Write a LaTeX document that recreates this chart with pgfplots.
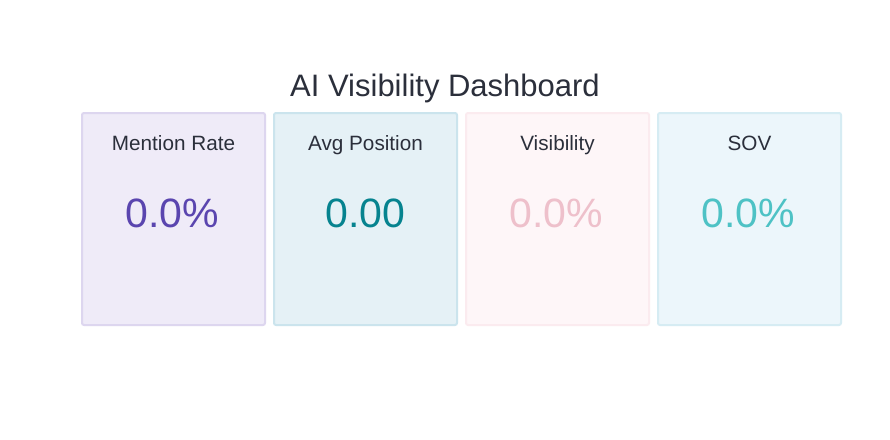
\documentclass[border=0pt]{standalone}
\usepackage{pgfplots}
\pgfplotsset{compat=1.18}
\usepackage{fontspec}
\setmainfont{Liberation Sans}
\definecolor{txt}{HTML}{2B2F3B}
\definecolor{fA}{HTML}{EFEBF8}\definecolor{bA}{HTML}{DDD6EF}\definecolor{vA}{HTML}{5A45AF}
\definecolor{fB}{HTML}{E5F1F6}\definecolor{bB}{HTML}{CBE4ED}\definecolor{vB}{HTML}{06838F}
\definecolor{fC}{HTML}{FEF6F8}\definecolor{bC}{HTML}{FBEBEF}\definecolor{vC}{HTML}{EEC0CB}
\definecolor{fD}{HTML}{ECF6FB}\definecolor{bD}{HTML}{D6ECF3}\definecolor{vD}{HTML}{4EC2C5}
\begin{document}
\begin{tikzpicture}
\begin{axis}[
  scale only axis, width=890pt, height=439pt,
  xmin=0, xmax=890, ymin=0, ymax=439, y dir=reverse,
  hide axis, clip=false,
]
\addplot[draw=none, fill=white] coordinates {(0,0) (890,0) (890,439) (0,439)} --cycle;
% cards: x from x0 to x0+184, y 112 to 326
\addplot[draw=bA, line width=2pt, fill=fA, rounded corners=2pt] coordinates {(82,113) (265,113) (265,325) (82,325)} --cycle;
\addplot[draw=bB, line width=2pt, fill=fB, rounded corners=2pt] coordinates {(274,113) (457,113) (457,325) (274,325)} --cycle;
\addplot[draw=bC, line width=2pt, fill=fC, rounded corners=2pt] coordinates {(466,113) (649,113) (649,325) (466,325)} --cycle;
\addplot[draw=bD, line width=2pt, fill=fD, rounded corners=2pt] coordinates {(658,113) (841,113) (841,325) (658,325)} --cycle;
\node[anchor=base, text=txt, font=\fontsize{31}{32}\selectfont] at (axis cs:445,96) {AI Visibility Dashboard};
\node[anchor=base, text=txt, font=\fontsize{20.7}{22}\selectfont] at (axis cs:173.5,150) {Mention Rate};
\node[anchor=base, text=txt, font=\fontsize{20.7}{22}\selectfont] at (axis cs:365.5,150) {Avg Position};
\node[anchor=base, text=txt, font=\fontsize{20.7}{22}\selectfont] at (axis cs:557.5,150) {Visibility};
\node[anchor=base, text=txt, font=\fontsize{20.7}{22}\selectfont] at (axis cs:749.5,150) {SOV};
\node[anchor=base, text=vA, font=\fontsize{41}{44}\selectfont] at (axis cs:172,227) {0.0\%};
\node[anchor=base, text=vB, font=\fontsize{41}{44}\selectfont] at (axis cs:365.5,227) {0.00};
\node[anchor=base, text=vC, font=\fontsize{41}{44}\selectfont] at (axis cs:556,227) {0.0\%};
\node[anchor=base, text=vD, font=\fontsize{41}{44}\selectfont] at (axis cs:748,227) {0.0\%};
\end{axis}
\end{tikzpicture}
\end{document}
